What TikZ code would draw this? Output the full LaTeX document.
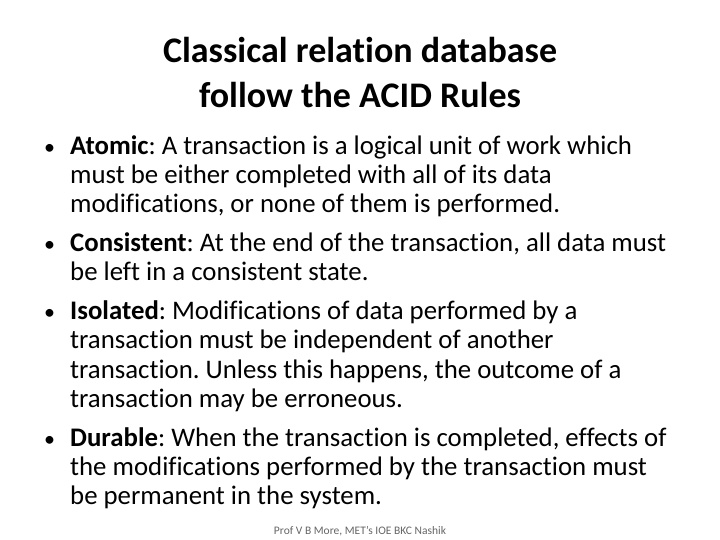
\documentclass[tikz,border=0pt]{standalone}
\usepackage{fontspec}
\setmainfont{Carlito}[RawFeature=-liga]
\begin{document}
\frenchspacing
\begin{tikzpicture}[x=1pt,y=1pt,
  ln/.style={anchor=base west,inner sep=0pt,font=\fontsize{26.8}{29}\selectfont},
  bul/.style={anchor=base west,inner sep=0pt,font=\fontsize{22}{29}\selectfont},
  ttl/.style={anchor=base,inner sep=0pt,font=\fontsize{36}{40}\selectfont\bfseries}]
\useasboundingbox (0,0) rectangle (720,540);
\fill[white] (0,0) rectangle (720,540);
\node[ttl] (t1) at (360,540-63) {Classical relation database};
\node[ttl] (t2) at (360,540-108) {follow the ACID Rules};
\def\bx{44}\def\tx{70}
\node[bul] (b1) at (\bx,540-155) {•};
\node[ln] (l1) at (\tx,540-155) {\textbf{Atomic}: A transaction is a logical unit of work which};
\node[ln] (l2) at (\tx,540-184) {must be either completed with all of its data};
\node[ln] (l3) at (\tx,540-213) {modifications, or none of them is performed.};
\node[bul] (b2) at (\bx,540-252) {•};
\node[ln] (l4) at (\tx,540-252) {\textbf{Consistent}: At the end of the transaction, all data must};
\node[ln] (l5) at (\tx,540-281) {be left in a consistent state.};
\node[bul] (b3) at (\bx,540-320) {•};
\node[ln] (l6) at (\tx,540-320) {\textbf{Isolated}: Modifications of data performed by a};
\node[ln] (l7) at (\tx,540-349) {transaction must be independent of another};
\node[ln] (l8) at (\tx,540-379) {transaction. Unless this happens, the outcome of a};
\node[ln] (l9) at (\tx,540-408) {transaction may be erroneous.};
\node[bul] (b4) at (\bx,540-447) {•};
\node[ln] (l10) at (\tx,540-447) {\textbf{Durable}: When the transaction is completed, effects of};
\node[ln] (l11) at (\tx,540-476) {the modifications performed by the transaction must};
\node[ln] (l12) at (\tx,540-505) {be permanent in the system.};
\node[anchor=base,inner sep=0pt,font=\fontsize{11.5}{13}\selectfont,text=gray!80!black] (f) at (360,540-535) {Prof V B More, MET’s IOE BKC Nashik};
\end{tikzpicture}
\end{document}
